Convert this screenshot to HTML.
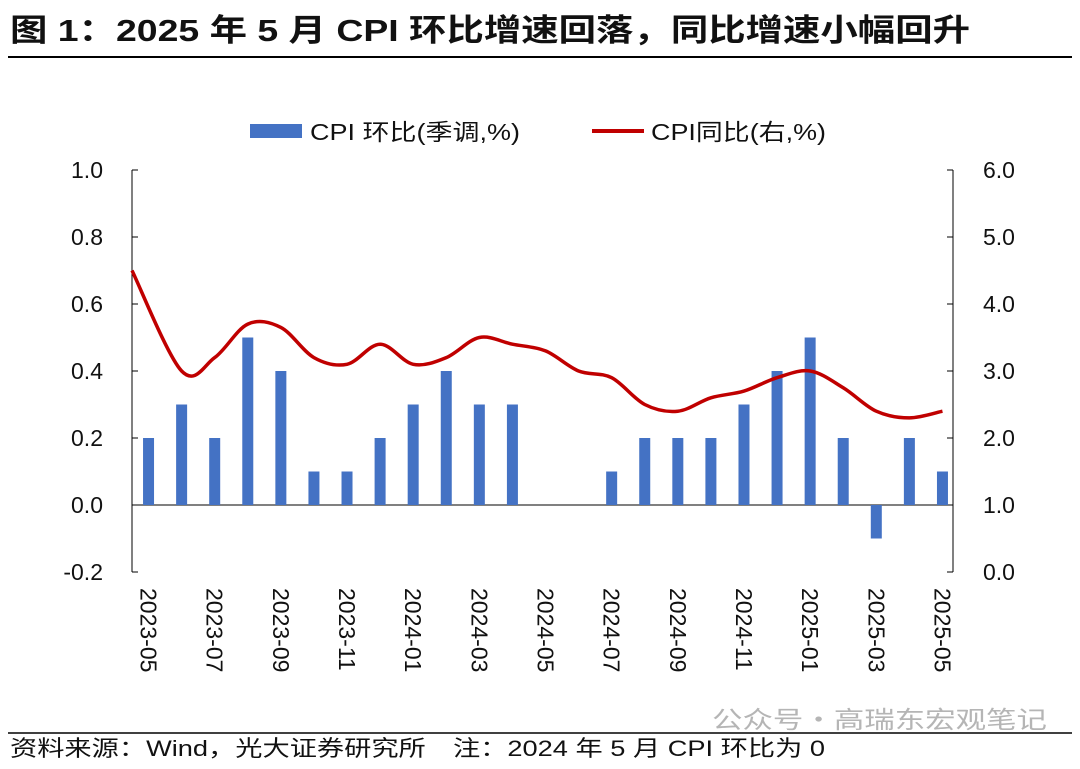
<!DOCTYPE html>
<html><head><meta charset="utf-8">
<style>
body{margin:0;background:#fff;width:1080px;height:764px;overflow:hidden;font-family:"Liberation Sans","Noto Sans CJK SC",sans-serif;}
</style></head>
<body>
<svg id="chart" width="1080" height="764" xmlns="http://www.w3.org/2000/svg" font-family="Liberation Sans, Noto Sans CJK SC, sans-serif">
<text x="10" y="41" font-size="31" font-weight="bold" fill="#111" textLength="960" lengthAdjust="spacingAndGlyphs">图 1：2025 年 5 月 CPI 环比增速回落，同比增速小幅回升</text>
<line x1="8" y1="57" x2="1072" y2="57" stroke="#000" stroke-width="2"/>
<rect x="250" y="124" width="52" height="14" fill="#4472C4"/>
<text x="310" y="140" font-size="23" fill="#111" textLength="210" lengthAdjust="spacingAndGlyphs">CPI 环比(季调,%)</text>
<line x1="592" y1="131" x2="644" y2="131" stroke="#C00000" stroke-width="4"/>
<text x="651" y="140" font-size="23" fill="#111" textLength="175" lengthAdjust="spacingAndGlyphs">CPI同比(右,%)</text>
<g id="axes"></g>
<g id="bars"></g>
<path id="line" fill="none" stroke="#C00000" stroke-width="3.5"/>
<line x1="8" y1="733" x2="1072" y2="733" stroke="#000" stroke-width="1.5"/>
<text x="712" y="728" font-size="24" fill="#b5b5b5" textLength="335" lengthAdjust="spacingAndGlyphs">公众号・高瑞东宏观笔记</text>
<text x="10" y="756" font-size="22" fill="#111" textLength="815" lengthAdjust="spacingAndGlyphs">资料来源：Wind，光大证券研究所　注：2024 年 5 月 CPI 环比为 0</text>
</svg>
<script>
const months=["2023-05","2023-06","2023-07","2023-08","2023-09","2023-10","2023-11","2023-12","2024-01","2024-02","2024-03","2024-04","2024-05","2024-06","2024-07","2024-08","2024-09","2024-10","2024-11","2024-12","2025-01","2025-02","2025-03","2025-04","2025-05"];
const momValues=[0.2,0.3,0.2,0.5,0.4,0.1,0.1,0.2,0.3,0.4,0.3,0.3,0,0,0.1,0.2,0.2,0.2,0.3,0.4,0.5,0.2,-0.1,0.2,0.1];
const yoyValues=[4.5,3.0,3.2,3.7,3.65,3.2,3.1,3.4,3.1,3.2,3.5,3.4,3.3,3.0,2.9,2.5,2.4,2.6,2.7,2.9,3.0,2.75,2.4,2.3,2.4];
const leftTicks=["-0.2","0.0","0.2","0.4","0.6","0.8","1.0"];
const rightTicks=["0.0","1.0","2.0","3.0","4.0","5.0","6.0"];
const NS="http://www.w3.org/2000/svg";
const X0=132,X1=959,YT=170,YB=572;
const step=(X1-X0)/months.length;
const xc=i=>X0+step*(i+0.5);
const yL=v=>YB-(v+0.2)/1.2*(YB-YT);
const yR=v=>YB-v/6*(YB-YT);
function mk(tag,attrs,parent){const e=document.createElementNS(NS,tag);for(const k in attrs)e.setAttribute(k,attrs[k]);parent.appendChild(e);return e;}
const ax=document.getElementById('axes');
let e=mk('line',{x1:X0,y1:YT,x2:X0,y2:YB,stroke:'#000','stroke-width':1},ax);


e=mk('line',{x1:X1-6,y1:YT,x2:X1-6,y2:YB,stroke:'#000','stroke-width':1},ax);


e=mk('line',{x1:X0,y1:yL(0),x2:X1-6,y2:yL(0),stroke:'#000','stroke-width':1},ax);


leftTicks.forEach(t=>{const y=yL(parseFloat(t));
 let l=mk('line',{x1:X0,y1:y,x2:X0+6,y2:y,stroke:'#000'},ax);
 
 
 let tx=mk('text',{x:103,y:y+8,'font-size':23,'text-anchor':'end',fill:'#111'},ax);tx.textContent=t;
 
 });
rightTicks.forEach(t=>{const y=yR(parseFloat(t));
 let l=mk('line',{x1:X1-12,y1:y,x2:X1-6,y2:y,stroke:'#000'},ax);
 
 
 let tx=mk('text',{x:983,y:y+8,'font-size':23,fill:'#111'},ax);tx.textContent=t;
 
 });
months.forEach((m,i)=>{ if(i%2) return;
 const x=xc(i);
 let tx=mk('text',{x:0,y:0,'font-size':23,fill:'#111',transform:`translate(${x-8},588) rotate(90)`},ax);tx.textContent=m;
 
 });
const bg=document.getElementById('bars');
momValues.forEach((v,i)=>{ if(v===0) return;
 const y0=yL(0),y1=yL(v);
 let r=mk('rect',{x:xc(i)-5.5,y:Math.min(y0,y1),width:11,height:Math.abs(y0-y1),fill:'#4472C4'},bg);
 
 });
const pts=yoyValues.map((v,i)=>[xc(i),yR(v)]);
pts[0][0]=X0;
let d=`M${pts[0][0]},${pts[0][1]}`;
for(let i=0;i<pts.length-1;i++){const p0=pts[Math.max(0,i-1)],p1=pts[i],p2=pts[i+1],p3=pts[Math.min(pts.length-1,i+2)];
 const c1=[p1[0]+(p2[0]-p0[0])/6,p1[1]+(p2[1]-p0[1])/6],c2=[p2[0]-(p3[0]-p1[0])/6,p2[1]-(p3[1]-p1[1])/6];
 d+=` C${c1[0]},${c1[1]} ${c2[0]},${c2[1]} ${p2[0]},${p2[1]}`;}
document.getElementById('line').setAttribute('d',d);
</script>
</body></html>
